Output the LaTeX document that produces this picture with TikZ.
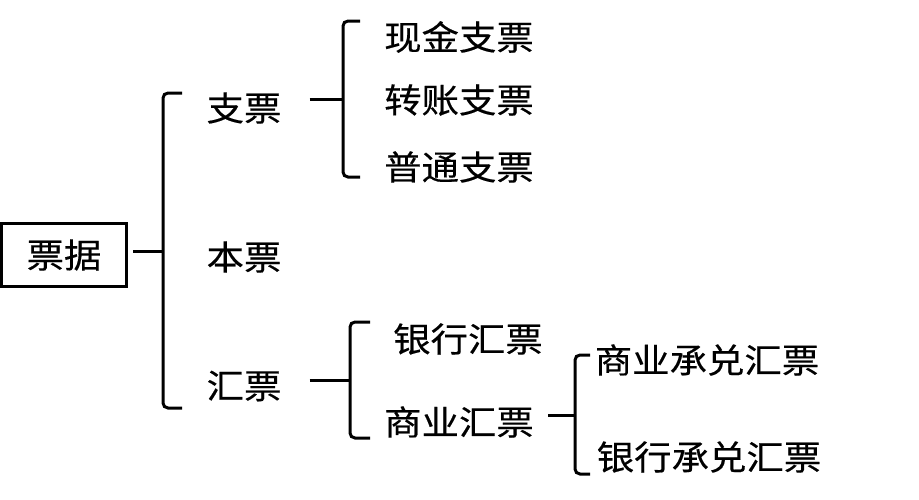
\documentclass[tikz,border=0pt]{standalone}
\usepackage{fontspec}
\newfontfamily\cjk[FakeStretch=1.1,FakeBold=0.4]{Noto Sans CJK SC}
\usetikzlibrary{calc}
\begin{document}
\begin{tikzpicture}[x=1pt,y=-1pt,
  lbl/.style={inner sep=0pt,font=\cjk\fontsize{34pt}{34pt}\selectfont},
  rootbox/.style={lbl,draw,line width=3pt,minimum width=125pt,minimum height=63pt},
  conn/.style={line width=3pt},
  bracestyle/.style={line width=3pt,rounded corners=5pt}]
\useasboundingbox (0,0) rectangle (919,499);
% nodes
\node[rootbox] (root) at (64,255) {票据};
\node[lbl] (zhi) at (244,108) {支票};
\node[lbl] (ben) at (244,257) {本票};
\node[lbl] (hui) at (244,386) {汇票};
\node[lbl] (xj) at (459,37) {现金支票};
\node[lbl] (zz) at (459,100) {转账支票};
\node[lbl] (pt) at (459,167) {普通支票};
\node[lbl] (yh) at (468,339) {银行汇票};
\node[lbl] (sy) at (459,422) {商业汇票};
\node[lbl] (sycd) at (707,360) {商业承兑汇票};
\node[lbl] (yhcd) at (709,457) {银行承兑汇票};
% brace coordinates
\coordinate (b1t) at (163,93);  \coordinate (b1b) at (163,408); \coordinate (b1m) at (163,251);
\coordinate (b2t) at (343,21);  \coordinate (b2b) at (343,177); \coordinate (b2m) at (343,99);
\coordinate (b3t) at (350,322); \coordinate (b3b) at (350,438); \coordinate (b3m) at (350,380);
\coordinate (b4t) at (575,355); \coordinate (b4b) at (575,474); \coordinate (b4m) at (575,415);
% braces
\draw[bracestyle] ($(b1t)+(19,0)$) -- (b1t) -- (b1b) -- ($(b1b)+(19,0)$);
\draw[bracestyle] ($(b2t)+(17,0)$) -- (b2t) -- (b2b) -- ($(b2b)+(17,0)$);
\draw[bracestyle] ($(b3t)+(20,0)$) -- (b3t) -- (b3b) -- ($(b3b)+(20,0)$);
\draw[bracestyle] ($(b4t)+(15,0)$) -- (b4t) -- (b4b) -- ($(b4b)+(15,0)$);
% connectors
\draw[conn] ($(root.east|-b1m)+(5,0)$) -- (b1m);
\draw[conn] ($(zhi.east|-b2m)+(28,0)$) -- (b2m);
\draw[conn] ($(hui.east|-b3m)+(28,0)$) -- (b3m);
\draw[conn] ($(sy.east|-b4m)+(14,0)$) -- (b4m);
\end{tikzpicture}
\end{document}
